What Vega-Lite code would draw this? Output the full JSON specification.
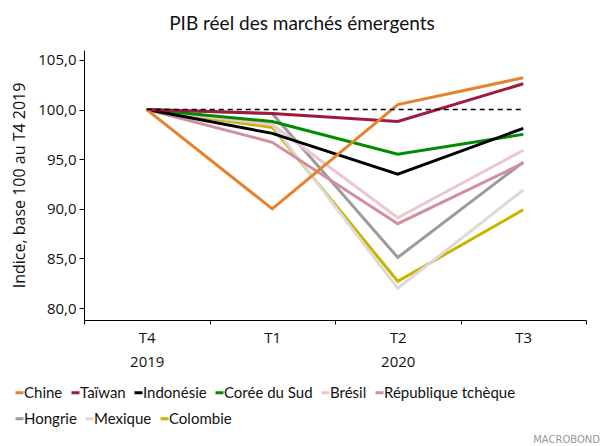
{
  "$schema": "https://vega.github.io/schema/vega-lite/v6.json",
  "width": 502,
  "height": 270,
  "autosize": {"type": "none"},
  "padding": {"left": 84, "top": 50, "right": 16, "bottom": 126},
  "background": "white",
  "title": {
    "text": "PIB réel des marchés émergents",
    "font": "Lato",
    "fontSize": 19,
    "fontWeight": "normal",
    "color": "#111",
    "anchor": "middle",
    "frame": "group",
    "dx": -33,
    "offset": 16
  },
  "config": {
    "view": {"stroke": null},
    "axis": {"grid": false, "domainColor": "#000", "tickColor": "#000", "labelColor": "#111", "titleColor": "#111"},
    "legend": {
      "title": null,
      "orient": "none",
      "direction": "horizontal",
      "symbolType": "stroke",
      "symbolSize": 64,
      "symbolStrokeWidth": 3,
      "labelFont": "Lato",
      "labelFontSize": 15,
      "labelColor": "#111",
      "labelOffset": -3,
      "columnPadding": 2,
      "labelLimit": 300
    }
  },
  "resolve": {"scale": {"color": "independent"}, "legend": {"color": "independent"}},
  "layer": [
    {
      "data": {
        "values": [
          {"pays": "Colombie", "trimestre": "T4", "valeur": 100},
          {"pays": "Colombie", "trimestre": "T1", "valeur": 98.2},
          {"pays": "Colombie", "trimestre": "T2", "valeur": 82.7},
          {"pays": "Colombie", "trimestre": "T3", "valeur": 89.9},
          {"pays": "Mexique", "trimestre": "T4", "valeur": 100},
          {"pays": "Mexique", "trimestre": "T1", "valeur": 98.5},
          {"pays": "Mexique", "trimestre": "T2", "valeur": 82.0},
          {"pays": "Mexique", "trimestre": "T3", "valeur": 91.9},
          {"pays": "Hongrie", "trimestre": "T4", "valeur": 100},
          {"pays": "Hongrie", "trimestre": "T1", "valeur": 99.6},
          {"pays": "Hongrie", "trimestre": "T2", "valeur": 85.1},
          {"pays": "Hongrie", "trimestre": "T3", "valeur": 94.7}
        ]
      },
      "mark": {"type": "line", "strokeWidth": 3},
      "encoding": {
        "x": {
          "field": "trimestre",
          "type": "ordinal",
          "sort": ["T4", "T1", "T2", "T3"],
          "bandPosition": 0.5,
          "scale": {"type": "band", "paddingInner": 0, "paddingOuter": 0},
          "axis": {
            "title": null,
            "labelAngle": 0,
            "tickBand": "extent",
            "tickSize": 4,
            "labelPadding": 6,
            "labelFont": "Open Sans",
            "labelFontSize": 15,
            "labelLineHeight": 24,
            "labelExpr": "datum.value == 'T4' ? ['T4', '2019'] : datum.value == 'T2' ? ['T2', '2020'] : [datum.value, '']"
          }
        },
        "y": {
          "field": "valeur",
          "type": "quantitative",
          "scale": {"domain": [78.8, 106], "nice": false, "zero": false},
          "axis": {
            "title": "Indice, base 100 au T4 2019",
            "titleFont": "Open Sans",
            "titleFontSize": 16,
            "titleFontWeight": "normal",
            "titlePadding": 10,
            "labelFont": "Open Sans",
            "labelFontSize": 15,
            "labelPadding": 3,
            "tickSize": 5,
            "values": [80, 82.5, 85, 87.5, 90, 92.5, 95, 97.5, 100, 102.5, 105],
            "labelExpr": "datum.value % 5 == 0 ? replace(format(datum.value, '.1f'), '.', ',') : ''"
          }
        },
        "color": {
          "field": "pays",
          "type": "nominal",
          "scale": {
            "domain": ["Hongrie", "Mexique", "Colombie"],
            "range": ["#9c9c9c", "#dadada", "#c9b400"]
          },
          "legend": {"legendX": -72, "legendY": 361}
        }
      }
    },
    {
      "data": {
        "values": [
          {"pays": "République tchèque", "trimestre": "T4", "valeur": 100},
          {"pays": "République tchèque", "trimestre": "T1", "valeur": 96.7},
          {"pays": "République tchèque", "trimestre": "T2", "valeur": 88.5},
          {"pays": "République tchèque", "trimestre": "T3", "valeur": 94.6},
          {"pays": "Brésil", "trimestre": "T4", "valeur": 100},
          {"pays": "Brésil", "trimestre": "T1", "valeur": 98.5},
          {"pays": "Brésil", "trimestre": "T2", "valeur": 89.1},
          {"pays": "Brésil", "trimestre": "T3", "valeur": 95.9},
          {"pays": "Corée du Sud", "trimestre": "T4", "valeur": 100},
          {"pays": "Corée du Sud", "trimestre": "T1", "valeur": 98.8},
          {"pays": "Corée du Sud", "trimestre": "T2", "valeur": 95.5},
          {"pays": "Corée du Sud", "trimestre": "T3", "valeur": 97.5},
          {"pays": "Indonésie", "trimestre": "T4", "valeur": 100},
          {"pays": "Indonésie", "trimestre": "T1", "valeur": 97.6},
          {"pays": "Indonésie", "trimestre": "T2", "valeur": 93.5},
          {"pays": "Indonésie", "trimestre": "T3", "valeur": 98.1},
          {"pays": "Taïwan", "trimestre": "T4", "valeur": 100},
          {"pays": "Taïwan", "trimestre": "T1", "valeur": 99.6},
          {"pays": "Taïwan", "trimestre": "T2", "valeur": 98.8},
          {"pays": "Taïwan", "trimestre": "T3", "valeur": 102.6},
          {"pays": "Chine", "trimestre": "T4", "valeur": 100},
          {"pays": "Chine", "trimestre": "T1", "valeur": 90.0},
          {"pays": "Chine", "trimestre": "T2", "valeur": 100.5},
          {"pays": "Chine", "trimestre": "T3", "valeur": 103.2}
        ]
      },
      "mark": {"type": "line", "strokeWidth": 3},
      "encoding": {
        "x": {"field": "trimestre", "type": "ordinal", "sort": ["T4", "T1", "T2", "T3"], "bandPosition": 0.5},
        "y": {"field": "valeur", "type": "quantitative"},
        "color": {
          "field": "pays",
          "type": "nominal",
          "scale": {
            "domain": ["Chine", "Taïwan", "Indonésie", "Corée du Sud", "Brésil", "République tchèque"],
            "range": ["#e5822f", "#9e1b3c", "#000000", "#008c00", "#ebc7cf", "#d28f9e"]
          },
          "legend": {"legendX": -72, "legendY": 335}
        }
      }
    },
    {
      "data": {
        "values": [
          {"trimestre": "T4", "valeur": 100},
          {"trimestre": "T3", "valeur": 100}
        ]
      },
      "mark": {"type": "line", "color": "#000", "strokeWidth": 1.5, "strokeDash": [5, 4]},
      "encoding": {
        "x": {"field": "trimestre", "type": "ordinal", "sort": ["T4", "T1", "T2", "T3"], "bandPosition": 0.5},
        "y": {"field": "valeur", "type": "quantitative"}
      }
    },
    {
      "data": {"values": [{"trimestre": "T3", "valeur": 78.8, "texte": "MACROBOND"}]},
      "mark": {"type": "text", "align": "right", "baseline": "bottom", "dy": 125, "dx": 14, "fontSize": 10, "font": "DejaVu Sans", "color": "#999"},
      "encoding": {
        "x": {"field": "trimestre", "type": "ordinal", "sort": ["T4", "T1", "T2", "T3"], "bandPosition": 1},
        "y": {"field": "valeur", "type": "quantitative"},
        "text": {"field": "texte"}
      }
    }
  ]
}
